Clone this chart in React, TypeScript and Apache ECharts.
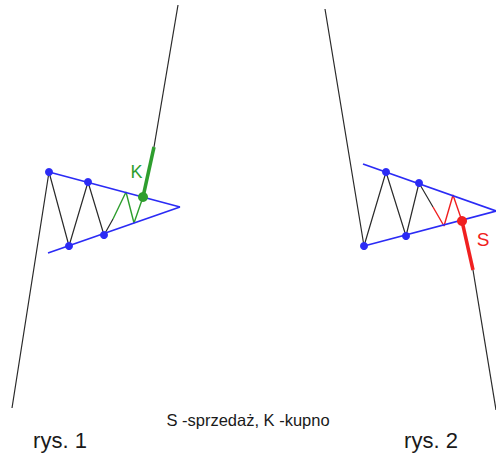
import React, { useEffect, useRef } from "react";
import * as echarts from "echarts";

// Panel 1 (rys. 1) – buy signal
const p1Trend: number[][] = [[12, 408], [49, 172], [69, 246], [88, 182], [104, 235], [113, 219]];
const p1Zig: number[][] = [[113, 219], [126, 192], [134, 223], [143, 197]];
const p1Break: number[][] = [[143, 197], [154, 147]];
const p1After: number[][] = [[154, 147], [178, 5]];
const p1Upper: number[][] = [[49, 172], [180, 207]];
const p1Lower: number[][] = [[48, 253], [180, 207]];
const p1Dots: number[][] = [[49, 172], [69, 246], [88, 182], [104, 235]];
const p1Signal: number[][] = [[143, 197]];

// Panel 2 (rys. 2) – sell signal
const p2Trend: number[][] = [[325, 9], [364, 246], [386, 172], [406, 236], [419, 183], [433, 207]];
const p2Zig: number[][] = [[433, 207], [444, 226], [453, 195], [462, 221]];
const p2Break: number[][] = [[462, 221], [473, 270]];
const p2After: number[][] = [[473, 270], [496, 410]];
const p2Upper: number[][] = [[363, 164], [496, 211]];
const p2Lower: number[][] = [[364, 246], [496, 211]];
const p2Dots: number[][] = [[364, 246], [386, 172], [406, 236], [419, 183]];
const p2Signal: number[][] = [[462, 221]];

const labels = {
  buy: "K",
  sell: "S",
  legend: "S -sprzedaż, K -kupno",
  fig1: "rys. 1",
  fig2: "rys. 2",
};

const BLACK = "#2a2a2a";
const BLUE = "#2b2bf5";
const GREEN = "#2e9e2e";
const RED = "#f02020";

function line(data: number[][], color: string, width: number, z = 2) {
  return {
    type: "line",
    data,
    symbol: "none",
    z,
    lineStyle: { color, width },
    silent: true,
  };
}

function dots(data: number[][], color: string, size: number) {
  return {
    type: "scatter",
    data,
    symbolSize: size,
    z: 5,
    itemStyle: { color, opacity: 1 },
    silent: true,
  };
}

export default function App() {
  const ref = useRef<HTMLDivElement>(null);
  useEffect(() => {
    if (!ref.current) return;
    const chart = echarts.init(ref.current, undefined, { renderer: "svg" });
    const font = "'Liberation Sans', Arial, sans-serif";
    chart.setOption({
      animation: false,
      backgroundColor: "#ffffff",
      grid: { left: 0, right: 0, top: 0, bottom: 0 },
      xAxis: { type: "value", min: 0, max: 496, show: false },
      yAxis: { type: "value", min: 0, max: 454, inverse: true, show: false },
      series: [
        line(p1Upper, BLUE, 1.7, 3),
        line(p1Lower, BLUE, 1.7, 3),
        line(p1Trend, BLACK, 1.2),
        line(p1Zig, GREEN, 1.4),
        line(p1Break, GREEN, 3.5),
        line(p1After, BLACK, 1.2),
        dots(p1Dots, BLUE, 8),
        dots(p1Signal, GREEN, 10),
        line(p2Upper, BLUE, 1.7, 3),
        line(p2Lower, BLUE, 1.7, 3),
        line(p2Trend, BLACK, 1.2),
        line(p2Zig, RED, 1.4),
        line(p2Break, RED, 3.5),
        line(p2After, BLACK, 1.2),
        dots(p2Dots, BLUE, 8),
        dots(p2Signal, RED, 10),
      ],
      graphic: [
        {
          type: "text",
          x: 136.5,
          y: 172,
          style: { text: labels.buy, fill: GREEN, font: `18px ${font}`, align: "center", verticalAlign: "middle" },
        },
        {
          type: "text",
          x: 483,
          y: 239,
          style: { text: labels.sell, fill: RED, font: `19px ${font}`, align: "center", verticalAlign: "middle" },
        },
        {
          type: "text",
          x: 248,
          y: 420,
          style: { text: labels.legend, fill: "#1a1a1a", font: `16.5px ${font}`, align: "center", verticalAlign: "middle" },
        },
        {
          type: "text",
          x: 60,
          y: 440,
          style: { text: labels.fig1, fill: "#1a1a1a", font: `22px ${font}`, align: "center", verticalAlign: "middle" },
        },
        {
          type: "text",
          x: 431,
          y: 440,
          style: { text: labels.fig2, fill: "#1a1a1a", font: `22px ${font}`, align: "center", verticalAlign: "middle" },
        },
      ],
    });
    return () => chart.dispose();
  }, []);
  return (
    <div
      ref={ref}
      style={{ position: "fixed", left: 0, top: 0, width: 496, height: 454 }}
    />
  );
}
